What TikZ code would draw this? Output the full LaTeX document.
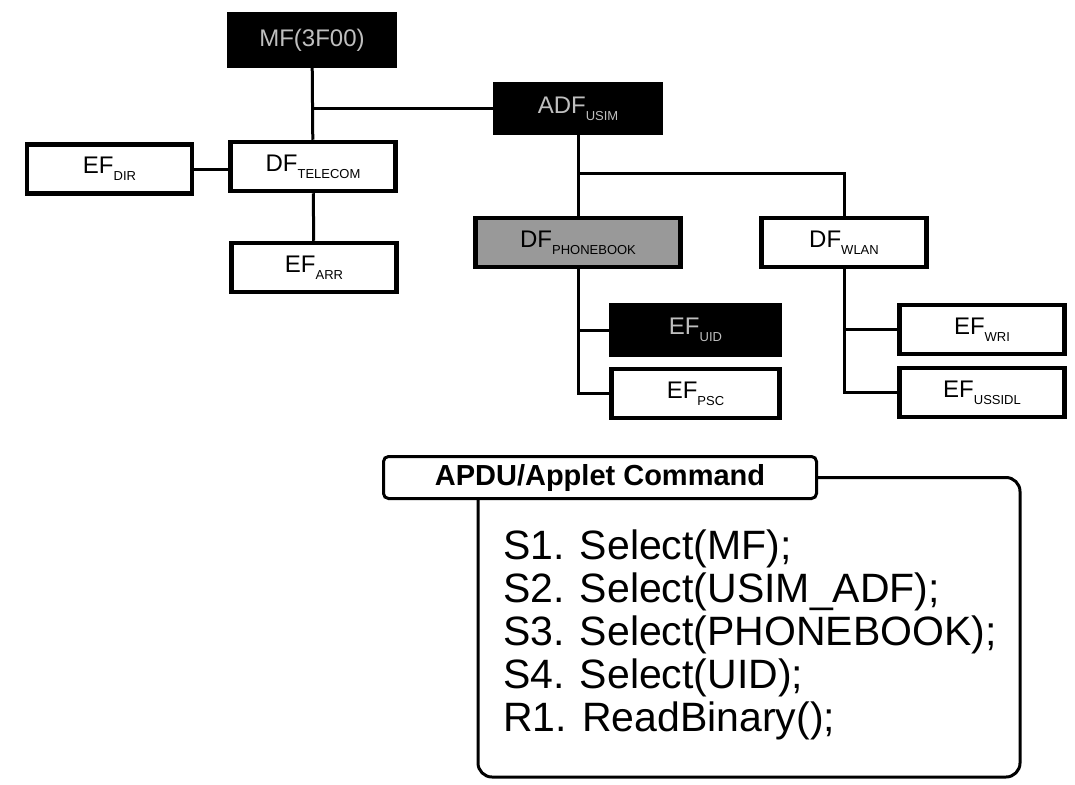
\documentclass[tikz,border=0pt]{standalone}
\usepackage{fontspec}
\setmainfont{Liberation Sans}
\usetikzlibrary{positioning}

% small lowered subscript for file names
\newcommand{\fsub}[1]{\raisebox{-7pt}{\fontsize{13}{13}\selectfont #1}}

\begin{document}
\begin{tikzpicture}[x=1pt, y=-1pt,
    box/.style={draw, line width=4.5pt, minimum width=165pt, minimum height=49pt,
                inner sep=0pt, font=\fontsize{24}{24}\selectfont},
    darkbox/.style={box, fill=black, text=white!75!black},
    greybox/.style={box, fill=black!40},
    link/.style={line width=3pt},
    tab/.style={draw, line width=3pt, rounded corners=5pt, minimum width=433pt,
                minimum height=42pt, inner sep=0pt,
                font=\bfseries\fontsize{29}{29}\selectfont},
    cmdline/.style={anchor=base west, inner sep=0pt, font=\fontsize{41}{41}\selectfont},
]
  \useasboundingbox (0,0) rectangle (1075,784);

  % ---- File tree ----
  \node[darkbox, minimum height=51pt] (mf)  at (312, 40)    {MF(3F00)};
  \node[darkbox] (adf)  at (578, 108.5)  {ADF\fsub{USIM}};
  \node[box]     (dir)  at (109.5, 169)  {EF\fsub{DIR}};
  \node[box]     (tel)  at (313, 166.5)  {DF\fsub{TELECOM}};
  \node[box]     (arr)  at (314, 267.5)  {EF\fsub{ARR}};
  \node[greybox, minimum width=205pt] (pb) at (578, 242.5) {DF\fsub{PHONEBOOK}};
  \node[box]     (wlan) at (844, 242.5)  {DF\fsub{WLAN}};
  \node[darkbox, minimum width=168pt] (uid) at (695.5, 330)   {EF\fsub{UID}};
  \node[box, minimum width=168pt]     (psc) at (695.5, 393.5) {EF\fsub{PSC}};
  \node[box]     (wri)  at (982, 329.5)  {EF\fsub{WRI}};
  \node[box]     (ssid) at (982, 392.5)  {EF\fsub{USSIDL}};

  % ---- Links ----
  \draw[link] (mf) -- (tel);
  \draw[link] (adf.west) -- (adf.west -| mf.south);
  \draw[link] (dir.east) -- (dir.east -| tel.west);
  \draw[link] (tel) -- (arr);

  \coordinate (adfj) at (578, 173);
  \draw[link] (adf) -- (pb);
  \draw[link] (adfj) -| (wlan.north);

  \draw[link] (pb.south) |- (uid.west);
  \draw[link] (pb.south) |- (psc.west);
  \draw[link] (wlan.south) |- (wri.west);
  \draw[link] (wlan.south) |- (ssid.west);

  % ---- Command panel ----
  \node[tab] (cmd) at (600, 477.5) {APDU/Applet Command};
  \coordinate (frameNE) at (1020, 478);
  \coordinate (frameSW) at (478, 777);
  \draw[link, rounded corners=14pt]
    (cmd.east) -- (cmd.east -| frameNE) |- (frameSW) -- (frameSW |- cmd.south);

  \foreach \i/\cmdtext in {0/{S1. Select(MF);}, 1/{S2. Select(USIM\_ADF);},
      2/{S3. Select(PHONEBOOK);}, 3/{S4. Select(UID);}, 4/{R1. ReadBinary();}} {
    \node[cmdline] (ln\i) at (503, {559+43*\i}) {\cmdtext};
  }

\end{tikzpicture}
\end{document}
